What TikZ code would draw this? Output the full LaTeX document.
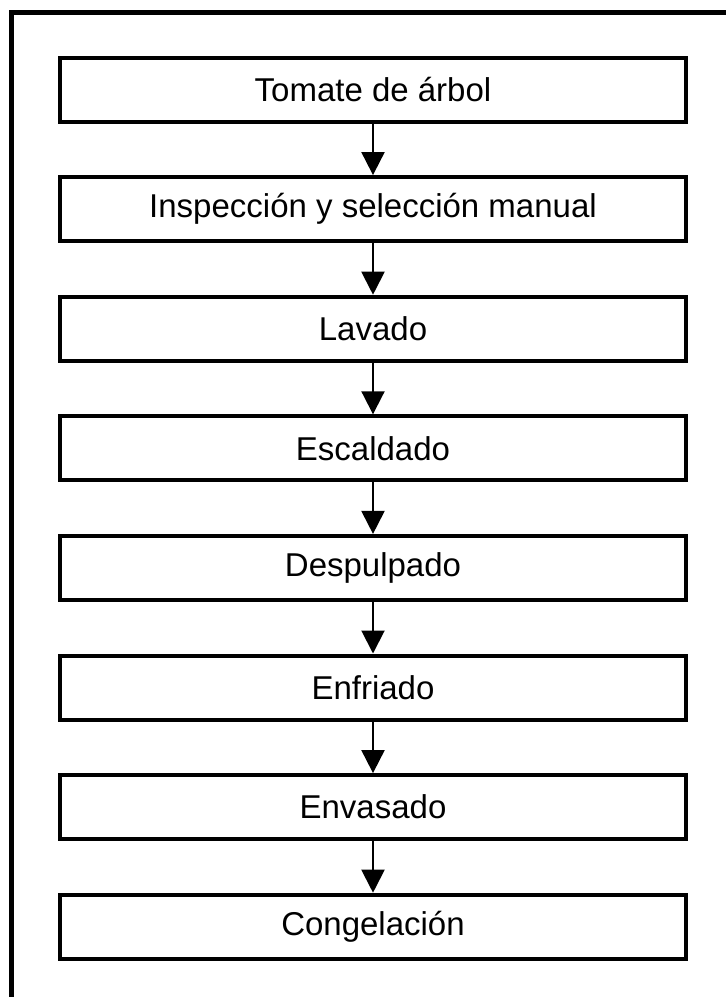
\documentclass[tikz,border=0pt]{standalone}
\usepackage{fontspec}
\setmainfont{Liberation Sans}
\usetikzlibrary{arrows.meta,positioning}
\definecolor{FInk}{HTML}{000000}
\definecolor{FPaper}{HTML}{FFFFFF}
\tikzset{
  stagebox/.style={rectangle,draw=FInk,fill=FPaper,line width=2pt,
                   minimum width=313pt,minimum height=32pt,
                   font=\fontsize{16.5}{19}\selectfont,text=FInk},
  flowarrow/.style={draw=FInk,line width=1pt,
                    -{Triangle[length=11.5pt,width=11.5pt]}},
  frameline/.style={draw=FInk,line width=2.5pt}
}
\begin{document}
\begin{tikzpicture}[node distance=25.8pt]
    \useasboundingbox[fill=FPaper] (0,0) rectangle (363pt,-498.5pt);
    % outer frame, only top and left edges visible
    \coordinate (framecorner) at (5.75pt,-6.25pt);
    \draw[frameline] (5.75pt,-502pt) -- (framecorner) -- (367pt,-6.25pt);

    \node[stagebox] (tomate) at (186.5pt,-44.75pt) {Tomate de árbol};
    \node[stagebox,below=of tomate] (inspeccion) {Inspección y selección manual};
    \node[stagebox,below=of inspeccion] (lavado) {Lavado};
    \node[stagebox,below=of lavado] (escaldado) {Escaldado};
    \node[stagebox,below=of escaldado] (despulpado) {Despulpado};
    \node[stagebox,below=of despulpado] (enfriado) {Enfriado};
    \node[stagebox,below=of enfriado] (envasado) {Envasado};
    \node[stagebox,below=of envasado] (congelacion) {Congelación};

    \draw[flowarrow] (tomate) -- (inspeccion);
    \draw[flowarrow] (inspeccion) -- (lavado);
    \draw[flowarrow] (lavado) -- (escaldado);
    \draw[flowarrow] (escaldado) -- (despulpado);
    \draw[flowarrow] (despulpado) -- (enfriado);
    \draw[flowarrow] (enfriado) -- (envasado);
    \draw[flowarrow] (envasado) -- (congelacion);
\end{tikzpicture}
\end{document}
